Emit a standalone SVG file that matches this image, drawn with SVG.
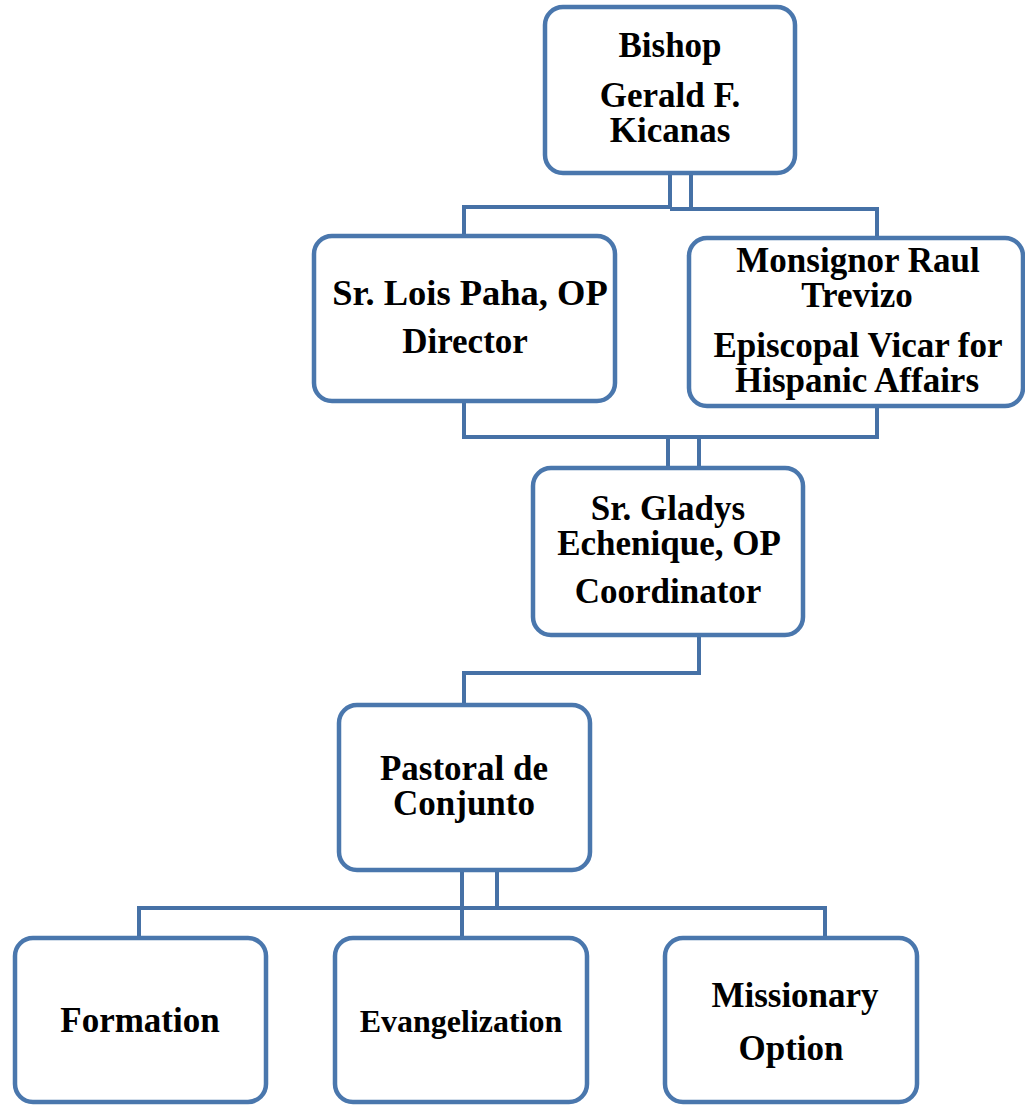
<svg xmlns="http://www.w3.org/2000/svg" width="1025" height="1105" viewBox="0 0 1025 1105">
<style>
.box{fill:#ffffff;stroke:#4a77ad;stroke-width:4.5}
.con{fill:none;stroke:#4671a6;stroke-width:4;stroke-linejoin:miter}
text{font-family:"Liberation Serif","Times New Roman",serif;font-weight:bold;font-size:35px;fill:#000;text-anchor:middle}
</style>
<rect width="1025" height="1105" fill="#ffffff"/>
<g id="connectors">
<path class="con" d="M670,173 V207 H464 V236"/>
<path class="con" d="M691,173 V209 H670 M670,209 H877 V238"/>
<path class="con" d="M464,401 V437 H668 V468"/>
<path class="con" d="M877,406 V437 H668 M699,437 V468"/>
<path class="con" d="M699,635 V673 H464 V705"/>
<path class="con" d="M462,870 V908 H139 V938"/>
<path class="con" d="M462,870 V938"/>
<path class="con" d="M497,870 V908 H825 V938 M462,908 H497"/>
</g>
<g id="bishop">
<rect class="box" x="545" y="7" width="250" height="166" rx="18"/>
<text x="670" y="57">Bishop</text>
<text x="670" y="107">Gerald F.</text>
<text x="670" y="142">Kicanas</text>
</g>
<g id="lois">
<rect class="box" x="314" y="236" width="301" height="165" rx="18"/>
<text x="470" y="305" style="font-size:36.5px">Sr. Lois Paha, OP</text>
<text x="465" y="353">Director</text>
</g>
<g id="raul">
<rect class="box" x="689" y="238" width="334" height="168" rx="18"/>
<text x="858" y="272">Monsignor Raul</text>
<text x="857" y="307">Trevizo</text>
<text x="858" y="357">Episcopal Vicar for</text>
<text x="857" y="392">Hispanic Affairs</text>
</g>
<g id="gladys">
<rect class="box" x="533" y="468" width="270" height="167" rx="18"/>
<text x="668" y="520">Sr. Gladys</text>
<text x="669" y="555">Echenique, OP</text>
<text x="668" y="603">Coordinator</text>
</g>
<g id="pastoral">
<rect class="box" x="339" y="705" width="251" height="165" rx="18"/>
<text x="464" y="780">Pastoral de</text>
<text x="464" y="815">Conjunto</text>
</g>
<g id="formation">
<rect class="box" x="15" y="938" width="251" height="164" rx="18"/>
<text x="140" y="1032">Formation</text>
</g>
<g id="evangelization">
<rect class="box" x="335" y="938" width="252" height="164" rx="18"/>
<text x="461" y="1032" style="font-size:32px">Evangelization</text>
</g>
<g id="missionary">
<rect class="box" x="665" y="938" width="252" height="164" rx="18"/>
<text x="795" y="1007">Missionary</text>
<text x="791" y="1060">Option</text>
</g>
</svg>
